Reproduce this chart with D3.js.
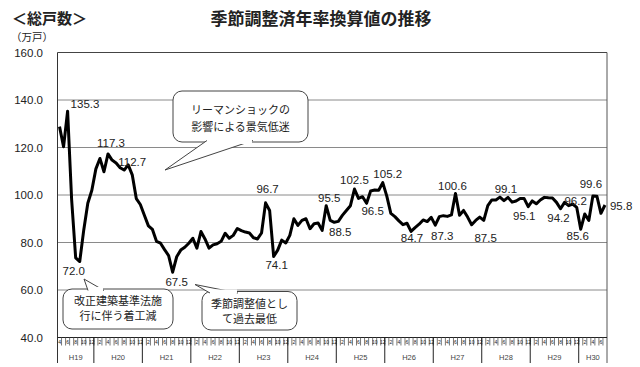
<!DOCTYPE html>
<html>
<head>
<meta charset="utf-8">
<script src="https://cdn.jsdelivr.net/npm/d3@7"></script>
<style>
  body { margin: 0; background: #fff; }
  svg { display: block; }
  .num { font-family: 'Liberation Sans', Arial, sans-serif; fill: #222; }
  .jp { font-family: 'Noto Sans CJK JP', sans-serif; fill: #222; }
</style>
</head>
<body>
<div id="chart"></div>
<script>
// monthly housing starts, seasonally adjusted annual rate (10k units), H19.4 - H30.7
const values = [
  128.8, 120.3, 135.3, 98.0, 73.5, 72.0, 85.3, 96.5, 102.0,
  111.0, 115.4, 109.8, 117.3, 114.7, 113.5, 111.5, 110.5, 112.7, 108.5, 98.5, 96.0,
  91.5, 87.0, 85.5, 80.5, 79.7, 77.0, 74.5, 67.5, 74.0, 76.8, 78.0, 79.7,
  81.8, 77.6, 84.6, 81.5, 77.6, 79.0, 79.5, 80.5, 83.9, 81.8, 83.0, 85.9,
  85.0, 84.4, 84.0, 82.0, 81.5, 84.0, 96.7, 93.5, 74.1, 76.8, 81.0, 79.8,
  83.0, 90.0, 87.2, 89.3, 90.0, 85.8, 87.9, 88.2, 85.1, 95.5, 89.3, 88.5,
  88.9, 91.4, 93.5, 95.5, 102.5, 98.6, 99.3, 96.5, 101.7, 102.1, 102.0, 105.2,
  99.5, 92.3, 90.9, 89.1, 87.5, 88.1, 84.7, 86.3, 87.7, 89.5, 88.8, 90.6,
  87.3, 90.9, 91.3, 91.0, 91.6, 100.6, 91.5, 93.5, 90.7, 87.5, 89.3, 90.7,
  89.3, 95.5, 97.9, 97.9, 99.1, 97.6, 99.0, 97.0, 97.5, 98.5, 98.5, 95.1,
  97.5, 96.3, 97.9, 99.0, 98.8, 98.7, 96.9, 94.2, 96.9, 95.5, 96.2, 94.8,
  85.6, 92.0, 89.3, 99.6, 99.5, 92.3, 95.8
];
const startMonth = new Date(2007, 3, 1);
const yearLabels = ['H19', 'H20', 'H21', 'H22', 'H23', 'H24', 'H25', 'H26', 'H27', 'H28', 'H29', 'H30'];
const yTicks = [40, 60, 80, 100, 120, 140, 160];
const labelIdx = [2, 5, 12, 17, 28, 51, 53, 66, 68, 73, 76, 80, 87, 93, 98, 102, 109, 116, 124, 127, 129, 132, 135];
const notes = [
  ['リーマンショックの', '影響による景気低迷'],
  ['改正建築基準法施', '行に伴う着工減'],
  ['季節調整値とし', 'て過去最低']
];

const W = 640, H = 367;
const plotL = 57.5, plotR = 607, plotT = 52.5, plotB = 337.5;

const svg = d3.select('#chart').append('svg')
    .attr('width', W)
    .attr('height', H);

const months = values.map(function(v, i) { return d3.timeMonth.offset(startMonth, i); });

const x = d3.scaleBand().domain(d3.range(values.length)).range([plotL, plotR]).padding(0);
const y = d3.scaleLinear().domain([40, 160]).range([plotB, plotT]);
const cx = function(i) { return x(i) + x.bandwidth() / 2; };

// titles
svg.append('text').attr('class', 'jp')
    .attr('x', 12).attr('y', 24)
    .style('font-size', '15px').style('font-weight', 'bold')
    .text('＜総戸数＞');
svg.append('text').attr('class', 'jp')
    .attr('x', 11).attr('y', 41)
    .style('font-size', '10.5px')
    .text('（万戸）');
svg.append('text').attr('class', 'jp')
    .attr('x', 321).attr('y', 25)
    .attr('text-anchor', 'middle')
    .style('font-size', '17px').style('font-weight', 'bold')
    .text('季節調整済年率換算値の推移');

// grid + y labels
svg.append('g').selectAll('line')
    .data(yTicks.filter(function(t) { return t > 40; }))
  .enter().append('line')
    .attr('x1', plotL).attr('x2', plotR)
    .attr('y1', function(d) { return y(d); })
    .attr('y2', function(d) { return y(d); })
    .attr('stroke', function(d) { return d === 160 ? '#444' : '#8a8a8a'; })
    .attr('stroke-width', 1);

svg.append('g').selectAll('text')
    .data(yTicks)
  .enter().append('text')
    .attr('class', 'num')
    .attr('x', 43)
    .attr('y', function(d) { return y(d); })
    .attr('dy', '0.35em')
    .attr('text-anchor', 'end')
    .style('font-size', '11.5px')
    .text(d3.format('.1f'));

// frame
svg.append('line').attr('x1', plotL).attr('x2', plotL).attr('y1', plotT).attr('y2', 363)
    .attr('stroke', '#333');
svg.append('line').attr('x1', plotR).attr('x2', plotR).attr('y1', plotT).attr('y2', 363)
    .attr('stroke', '#555');
svg.append('line').attr('x1', plotL).attr('x2', plotR).attr('y1', plotB).attr('y2', plotB)
    .attr('stroke', '#222');

// month ticks and even-month labels
const xa = svg.append('g');
xa.selectAll('line.m')
    .data(d3.range(1, values.length))
  .enter().append('line')
    .attr('class', 'm')
    .attr('x1', function(i) { return x(i); })
    .attr('x2', function(i) { return x(i); })
    .attr('y1', plotB)
    .attr('y2', plotB + 8)
    .attr('stroke', function(i) { return months[i].getMonth() === 0 ? '#222' : '#555'; })
    .attr('stroke-width', 0.8);

xa.selectAll('text.m')
    .data(d3.range(values.length).filter(function(i) { return (months[i].getMonth() + 1) % 2 === 0; }))
  .enter().append('text')
    .attr('class', 'num m')
    .attr('x', function(i) { return cx(i); })
    .attr('y', plotB + 6.5)
    .attr('text-anchor', 'middle')
    .style('font-size', '5px')
    .text(function(i) { return months[i].getMonth() + 1; });

// year separators and labels
const yearStarts = [0].concat(d3.range(values.length).filter(function(i) { return i > 0 && months[i].getMonth() === 0; }));
xa.selectAll('line.y')
    .data(yearStarts.slice(1))
  .enter().append('line')
    .attr('x1', function(i) { return x(i); })
    .attr('x2', function(i) { return x(i); })
    .attr('y1', plotB)
    .attr('y2', 363)
    .attr('stroke', '#222');

xa.selectAll('text.y')
    .data(yearStarts)
  .enter().append('text')
    .attr('class', 'num')
    .attr('x', function(s, k) {
      const e = k + 1 < yearStarts.length ? x(yearStarts[k + 1]) : plotR;
      return (x(s) + e) / 2;
    })
    .attr('y', 360)
    .attr('text-anchor', 'middle')
    .style('font-size', '7.5px')
    .style('fill', '#444')
    .text(function(s, k) { return yearLabels[k]; });

// series line
const line = d3.line()
    .x(function(d, i) { return cx(i); })
    .y(function(d) { return y(d); });

svg.append('path')
    .datum(values)
    .attr('fill', 'none')
    .attr('stroke', '#000')
    .attr('stroke-width', 3)
    .attr('stroke-linejoin', 'round')
    .attr('d', line);

// value labels: [dx, dy, anchor]
const nudge = {
  2: [3, -3, 'start'], 5: [-6, 13], 12: [3, -7], 17: [4, 1], 28: [4, 14],
  51: [2, -10], 53: [3, 12], 66: [3, -4], 68: [6, 14], 73: [0, -5],
  76: [6, 12], 80: [5, -5], 87: [1, 11], 93: [7, 15], 98: [-3, -4],
  102: [14, 17], 109: [6, -4], 116: [-4, 13], 124: [-2, 13], 127: [3, 1],
  129: [-3, 11], 132: [-2, -8], 135: [5, 5, 'start']
};

svg.append('g').selectAll('text')
    .data(labelIdx)
  .enter().append('text')
    .attr('class', 'num')
    .attr('x', function(i) { return cx(i) + nudge[i][0]; })
    .attr('y', function(i) { return y(values[i]) + nudge[i][1]; })
    .attr('text-anchor', function(i) { return nudge[i][2] || 'middle'; })
    .style('font-size', '11.5px')
    .text(function(i) { return d3.format('.1f')(values[i]); });

// callout boxes
const boxes = [
  {x: 173, y: 91, w: 135, h: 51, tip: [165, 170], base: [207, 253], side: 'bottom', ty: [110, 127]},
  {x: 63, y: 289, w: 110, h: 40, tip: [84, 279], base: [88, 104], side: 'top', ty: [301.5, 316.5]},
  {x: 202, y: 291.5, w: 95, h: 38.5, tip: [195, 284.5], base: [210, 238], side: 'top', ty: [304, 319]}
];

boxes.forEach(function(b, k) {
  const g = svg.append('g');
  g.append('rect')
      .attr('x', b.x).attr('y', b.y)
      .attr('width', b.w).attr('height', b.h)
      .attr('rx', 9)
      .attr('fill', '#fff')
      .attr('stroke', '#444')
      .attr('stroke-width', 1);
  const by = b.side === 'bottom' ? b.y + b.h : b.y;
  const inset = b.side === 'bottom' ? -1.5 : 1.5;
  g.append('path')
      .attr('d', 'M' + b.base[0] + ',' + (by + inset) + 'L' + b.tip[0] + ',' + b.tip[1] + 'L' + b.base[1] + ',' + (by + inset))
      .attr('fill', '#fff')
      .attr('stroke', '#444')
      .attr('stroke-width', 1);
  g.append('rect')
      .attr('x', b.base[0] + 1).attr('y', by - 2)
      .attr('width', b.base[1] - b.base[0] - 2).attr('height', 4)
      .attr('fill', '#fff');
  g.selectAll('text')
      .data(notes[k])
    .enter().append('text')
      .attr('class', 'jp')
      .attr('x', b.x + b.w / 2)
      .attr('y', function(d, j) { return b.ty[j]; })
      .attr('dy', '0.35em')
      .attr('text-anchor', 'middle')
      .style('font-size', '11px')
      .text(function(d) { return d; });
});
</script>
</body>
</html>
